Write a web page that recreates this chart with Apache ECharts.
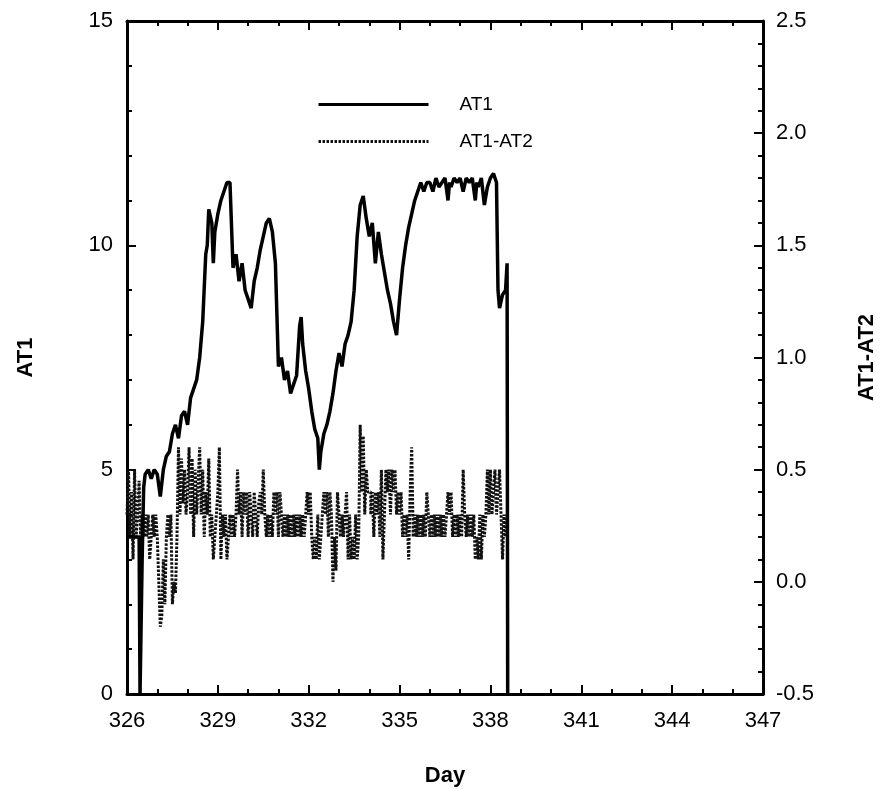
<!DOCTYPE html>
<html>
<head>
<meta charset="utf-8">
<script src="https://cdn.jsdelivr.net/npm/echarts@6/dist/echarts.min.js"></script>
<style>
html,body{margin:0;padding:0;background:#fff;}
#chart{width:881px;height:789px;}
</style>
</head>
<body>
<div id="chart"></div>
<script>
// ---- data ----
const dayOrigin = 326;
const dayTickLabels = ['326','329','332','335','338','341','344','347'];
const rightTickLabels = ['-0.5','0.0','0.5','1.0','1.5','2.0','2.5'];

const at1Days = [
  326.0,326.1,326.2,326.3,326.4,326.43,326.5,326.55,326.6,326.7,326.8,326.9,
  327.0,327.1,327.2,327.3,327.4,327.5,327.6,327.7,327.8,327.9,
  328.0,328.1,328.2,328.3,328.4,328.5,328.6,328.65,328.7,328.8,328.85,328.9,
  329.0,329.1,329.2,329.3,329.4,329.45,329.5,329.6,329.7,329.8,329.9,
  330.0,330.1,330.2,330.3,330.4,330.5,330.6,330.7,330.8,330.9,
  331.0,331.1,331.2,331.3,331.4,331.5,331.6,331.7,331.75,331.8,331.9,
  332.0,332.1,332.2,332.3,332.35,332.4,332.5,332.6,332.7,332.8,332.9,
  333.0,333.1,333.2,333.3,333.4,333.5,333.6,333.7,333.8,333.9,
  334.0,334.1,334.2,334.3,334.4,334.5,334.6,334.7,334.8,334.9,
  335.0,335.1,335.2,335.3,335.4,335.5,335.6,335.7,335.8,335.9,
  336.0,336.1,336.2,336.3,336.4,336.5,336.6,336.65,336.7,336.8,336.9,
  337.0,337.1,337.2,337.3,337.4,337.5,337.55,337.6,337.7,337.8,337.9,
  338.0,338.1,338.2,338.25,338.3,338.4,338.5,338.55,338.57
];
const at1Values = [
  3.5,3.5,3.5,3.5,3.5,0.0,3.0,4.6,4.9,5.0,4.8,5.0,
  4.9,4.4,5.0,5.3,5.4,5.8,6.0,5.7,6.2,6.3,
  6.0,6.6,6.8,7.0,7.5,8.3,9.8,10.0,10.8,10.5,9.6,10.3,
  10.7,11.0,11.2,11.4,11.4,11.4,9.5,9.8,9.2,9.6,9.0,
  8.8,8.6,9.2,9.5,9.9,10.2,10.5,10.6,10.3,9.6,
  7.3,7.5,7.0,7.2,6.7,6.9,7.1,8.2,8.4,7.8,7.2,
  6.8,6.3,5.9,5.7,5.0,5.4,5.8,6.0,6.3,6.7,7.2,
  7.6,7.3,7.8,8.0,8.3,9.0,10.2,10.9,11.1,10.6,
  10.2,10.5,9.6,10.3,9.8,9.4,9.0,8.7,8.3,8.0,
  8.8,9.5,10.0,10.4,10.7,11.0,11.2,11.4,11.2,11.4,
  11.4,11.2,11.5,11.3,11.4,11.5,11.0,11.4,11.3,11.5,11.4,
  11.5,11.2,11.5,11.4,11.5,11.0,11.4,11.3,11.5,10.9,11.3,
  11.5,11.6,11.4,9.0,8.6,8.9,9.0,9.6,0.0
];

// AT1-AT2 sampled every 0.05 day from day 326.00
const diffStartDay = 326.0;
const diffStepDay = 0.05;
const diffValues = [
  0.3,0.5,0.2,0.4,0.1,0.5,0.2,0.3,0.45,0.2,0.3,0.2,0.3,0.2,0.3,0.1,0.2,0.3,0.2,0.3,
  0.2,0.0,-0.2,-0.15,0.1,-0.1,0.2,0.3,0.2,0.3,-0.1,0.0,-0.05,0.2,0.6,0.3,0.55,0.35,0.5,0.3,
  0.4,0.6,0.3,0.55,0.2,0.5,0.3,0.45,0.6,0.3,0.5,0.2,0.4,0.3,0.55,0.2,0.3,0.1,0.2,0.3,
  0.4,0.6,0.1,0.3,0.2,0.3,0.1,0.2,0.3,0.2,0.3,0.2,0.3,0.5,0.3,0.4,0.2,0.4,0.3,0.4,
  0.2,0.4,0.3,0.2,0.4,0.3,0.2,0.35,0.4,0.3,0.5,0.3,0.2,0.3,0.2,0.3,0.2,0.4,0.3,0.4,
  0.2,0.4,0.3,0.2,0.3,0.2,0.3,0.2,0.3,0.2,0.3,0.2,0.3,0.2,0.3,0.2,0.3,0.2,0.3,0.4,
  0.3,0.4,0.2,0.1,0.2,0.1,0.3,0.1,0.2,0.3,0.4,0.3,0.4,0.2,0.4,0.3,0.0,0.2,0.05,0.4,
  0.3,0.2,0.3,0.2,0.3,0.4,0.1,0.3,0.1,0.2,0.1,0.3,0.1,0.2,0.7,0.4,0.65,0.3,0.5,0.4,
  0.4,0.3,0.4,0.2,0.4,0.3,0.4,0.2,0.5,0.1,0.3,0.5,0.4,0.5,0.3,0.5,0.4,0.5,0.3,0.4,
  0.3,0.4,0.2,0.3,0.2,0.3,0.1,0.4,0.6,0.2,0.3,0.2,0.3,0.2,0.3,0.2,0.3,0.2,0.4,0.3,
  0.2,0.3,0.2,0.3,0.2,0.3,0.2,0.3,0.2,0.3,0.2,0.3,0.4,0.3,0.4,0.2,0.3,0.2,0.3,0.2,
  0.3,0.2,0.5,0.3,0.2,0.3,0.2,0.3,0.2,0.3,0.1,0.2,0.1,0.3,0.1,0.3,0.2,0.3,0.5,0.3,
  0.5,0.3,0.4,0.5,0.3,0.4,0.5,0.3,0.1,0.3,0.2,0.3
];

// ---- build ----
const FONT = '"Liberation Sans", Arial, sans-serif';
const at1Data = at1Days.map((d, i) => [d - dayOrigin, at1Values[i]]);
const diffData = diffValues.map((v, i) => [diffStartDay - dayOrigin + i * diffStepDay, v]);

const axisLineStyle = { color: '#000', width: 3 };
const tickStyle = { color: '#000', width: 2 };

function xAxisBase(pos, withLabels) {
  return {
    type: 'value', position: pos, min: 0, max: 21, interval: 3,
    axisLine: { show: true, onZero: false, lineStyle: axisLineStyle },
    axisTick: { show: true, inside: true, length: 9, lineStyle: tickStyle },
    minorTick: { show: true, splitNumber: 3, length: 5, lineStyle: tickStyle },
    splitLine: { show: false }, minorSplitLine: { show: false },
    axisLabel: {
      show: withLabels, margin: 16, color: '#000', fontSize: 22, fontFamily: FONT,
      formatter: v => dayTickLabels[Math.round(v / 3)]
    }
  };
}

const xBottom = Object.assign(xAxisBase('bottom', true), {
  name: 'Day', nameLocation: 'middle', nameGap: 71,
  nameTextStyle: { color: '#000', fontSize: 22, fontWeight: 'bold', fontFamily: FONT }
});
const xTop = xAxisBase('top', false);

const chart = echarts.init(document.getElementById('chart'), null, { renderer: 'canvas' });
chart.setOption({
  animation: false,
  backgroundColor: '#fff',
  grid: { left: 127, right: 118, top: 21, bottom: 95, containLabel: false, outerBoundsMode: 'none' },
  legend: {
    orient: 'vertical', left: 312, top: 90, itemWidth: 110, itemHeight: 16, itemGap: 18,
    selectedMode: false,
    textStyle: { color: '#000', fontSize: 19, fontFamily: FONT, padding: [0, 0, 0, 26] },
    itemStyle: { opacity: 0, borderWidth: 0 },
    lineStyle: { width: 3 },
    data: ['AT1', 'AT1-AT2']
  },
  xAxis: [xBottom, xTop],
  yAxis: [
    {
      type: 'value', position: 'left', min: 0, max: 15, interval: 5,
      axisLine: { show: true, onZero: false, lineStyle: axisLineStyle },
      axisTick: { show: true, inside: true, length: 9, lineStyle: tickStyle },
      minorTick: { show: true, splitNumber: 5, length: 5, lineStyle: tickStyle },
      splitLine: { show: false },
      axisLabel: { margin: 14, color: '#000', fontSize: 22, fontFamily: FONT },
      name: 'AT1', nameLocation: 'middle', nameGap: 90,
      nameTextStyle: { color: '#000', fontSize: 22, fontWeight: 'bold', fontFamily: FONT }
    },
    {
      type: 'value', position: 'right', min: -0.5, max: 2.5, interval: 0.5,
      axisLine: { show: true, onZero: false, lineStyle: axisLineStyle },
      axisTick: { show: true, inside: true, length: 9, lineStyle: tickStyle },
      minorTick: { show: true, splitNumber: 5, length: 5, lineStyle: tickStyle },
      splitLine: { show: false },
      axisLabel: {
        margin: 13, color: '#000', fontSize: 22, fontFamily: FONT,
        formatter: v => rightTickLabels[Math.round((v + 0.5) / 0.5)]
      },
      name: 'AT1-AT2', nameLocation: 'middle', nameGap: 93,
      nameTextStyle: { color: '#000', fontSize: 22, fontWeight: 'bold', fontFamily: FONT }
    }
  ],
  series: [
    {
      name: 'AT1', type: 'line', xAxisIndex: 0, yAxisIndex: 0,
      data: at1Data, symbol: 'none', showSymbol: false, smooth: false,
      lineStyle: { color: '#000', width: 3.5 }, itemStyle: { color: '#000' }, z: 3
    },
    {
      name: 'AT1-AT2', type: 'line', xAxisIndex: 0, yAxisIndex: 1,
      data: diffData, symbol: 'none', showSymbol: false, step: 'end',
      lineStyle: { color: '#111', width: 3, type: [2.5, 1.5] }, itemStyle: { color: '#111' }, z: 2
    }
  ]
});
</script>
</body>
</html>
